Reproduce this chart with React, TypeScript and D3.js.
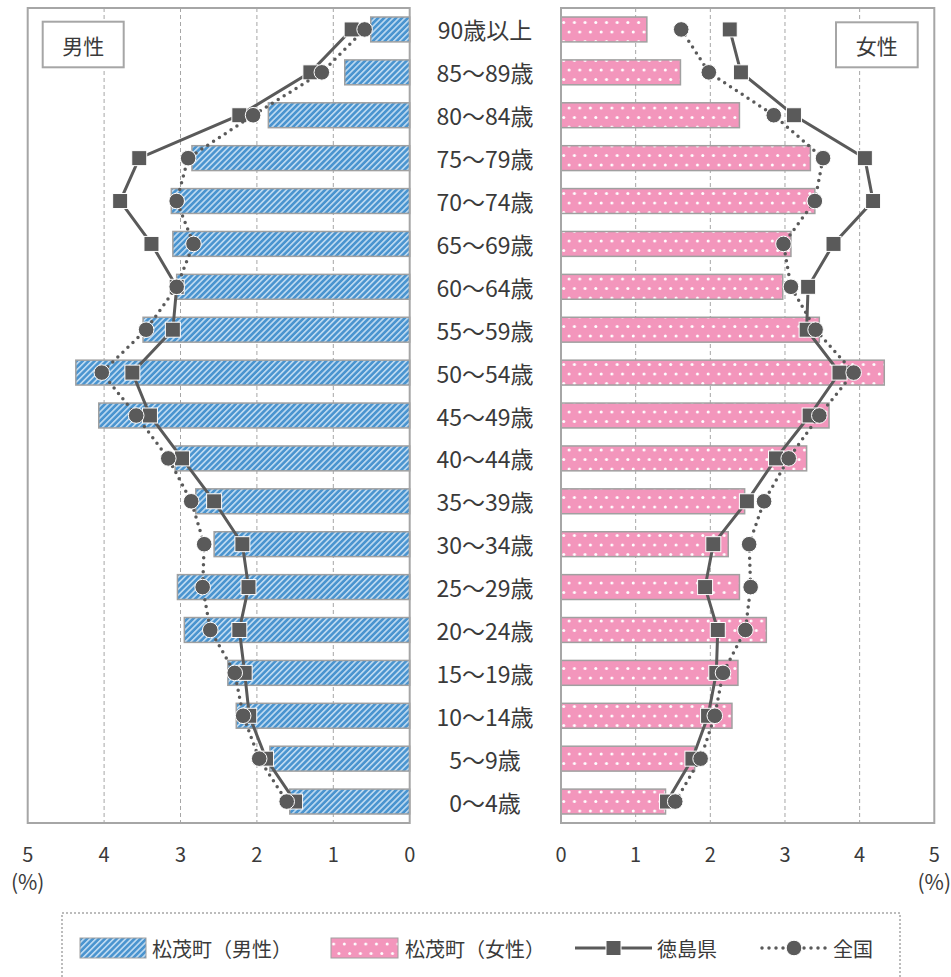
import React from "react";
import * as d3 from "d3";

const categories = ["90歳以上","85～89歳","80～84歳","75～79歳","70～74歳","65～69歳","60～64歳","55～59歳","50～54歳","45～49歳","40～44歳","35～39歳","30～34歳","25～29歳","20～24歳","15～19歳","10～14歳","5～9歳","0～4歳"];

const maleTown = [0.51,0.85,1.85,2.85,3.12,3.10,3.05,3.49,4.37,4.07,3.07,2.80,2.56,3.04,2.95,2.38,2.27,1.83,1.57];
const maleTokushima = [0.76,1.30,2.23,3.54,3.79,3.38,3.05,3.10,3.63,3.40,2.98,2.56,2.19,2.11,2.23,2.16,2.10,1.88,1.50];
const maleNational = [0.59,1.15,2.05,2.90,3.05,2.83,3.05,3.45,4.03,3.58,3.16,2.86,2.69,2.71,2.61,2.29,2.18,1.97,1.61];

const femaleTown = [1.15,1.60,2.39,3.34,3.40,3.08,2.97,3.46,4.33,3.59,3.29,2.46,2.24,2.39,2.75,2.37,2.29,1.79,1.40];
const femaleTokushima = [2.26,2.41,3.12,4.07,4.18,3.65,3.31,3.29,3.73,3.33,2.88,2.49,2.04,1.93,2.10,2.08,1.97,1.76,1.42];
const femaleNational = [1.61,1.98,2.85,3.51,3.40,2.98,3.08,3.41,3.92,3.46,3.05,2.72,2.52,2.54,2.47,2.17,2.06,1.87,1.53];

const ticks = [0, 1, 2, 3, 4, 5];
const gridTicks = [1, 2, 3, 4];
const legendLabels = ["松茂町（男性）", "松茂町（女性）", "徳島県", "全国"];
const unitLabel = "(%)";

const FONT = "'Noto Sans CJK JP', 'Noto Sans', sans-serif";
const TEXT = "#3a3a3a";
const GRAY = "#a6a6a6";
const MARK = "#5a5a5a";

export default function App() {
  const top = 8, bottom = 823;
  const xm = d3.scaleLinear().domain([0, 5]).range([409.7, 27.7]);
  const xf = d3.scaleLinear().domain([0, 5]).range([561, 934.3]);
  const y = d3.scaleBand<string>().domain(categories).range([top, bottom]).paddingInner(0.42).paddingOuter(0.21);
  const bw = y.bandwidth();
  const cy = (c: string) => (y(c) as number) + bw / 2;

  const lineGen = (xs: d3.ScaleLinear<number, number>, vals: number[]) =>
    d3.line<number>().x((v) => xs(v)).y((_, i) => cy(categories[i]))(vals) || "";

  const renderPanel = (
    xs: d3.ScaleLinear<number, number>,
    town: number[],
    tok: number[],
    nat: number[],
    fill: string,
    key: string
  ) => (
    <g key={key}>
      {gridTicks.map((t) => (
        <line key={t} x1={xs(t)} x2={xs(t)} y1={top} y2={bottom} stroke={GRAY} strokeWidth={1} strokeDasharray="4 3" />
      ))}
      {town.map((v, i) => {
        const a = xs(0), b = xs(v);
        return (
          <rect key={i} x={Math.min(a, b)} y={y(categories[i])} width={Math.abs(b - a)} height={bw}
            fill={fill} stroke="#a0a0a0" strokeWidth={1.5} />
        );
      })}
      <path d={lineGen(xs, tok)} fill="none" stroke={MARK} strokeWidth={3} />
      {tok.map((v, i) => (
        <rect key={"s" + i} x={xs(v) - 7.5} y={cy(categories[i]) - 7.5} width={15} height={15} fill={MARK} stroke="#fff" strokeWidth={1} />
      ))}
      <path d={lineGen(xs, nat)} fill="none" stroke={MARK} strokeWidth={3.5} strokeDasharray="0 7" strokeLinecap="round" />
      {nat.map((v, i) => (
        <circle key={"c" + i} cx={xs(v)} cy={cy(categories[i])} r={7.8} fill={MARK} stroke="#fff" strokeWidth={1} />
      ))}
      <rect x={Math.min(xs(0), xs(5))} y={top} width={Math.abs(xs(5) - xs(0))} height={bottom - top} fill="none" stroke={GRAY} strokeWidth={2} />
      {ticks.map((t) => (
        <text key={"t" + t} x={xs(t)} y={853} textAnchor="middle" dominantBaseline="central" fontSize={20} fill={TEXT}>{t}</text>
      ))}
      <text x={xs(5)} y={881} textAnchor="middle" dominantBaseline="central" fontSize={21} fill={TEXT}>{unitLabel}</text>
    </g>
  );

  const ly = 948;
  return (
    <svg width={951} height={977} style={{ position: "absolute", left: 0, top: 0, fontFamily: FONT }}>
      <defs>
        <pattern id="hatch" patternUnits="userSpaceOnUse" width={4.2} height={4.2} patternTransform="rotate(45)">
          <rect width={4.2} height={4.2} fill="#4a94cf" />
          <line x1={0.8} y1={0} x2={0.8} y2={4.2} stroke="#c8e0f4" strokeWidth={1.5} />
        </pattern>
        <pattern id="dots" patternUnits="userSpaceOnUse" width={10.7} height={19} x={561} y={0}>
          <rect width={10.7} height={19} fill="#f396bc" />
          <circle cx={2.7} cy={3.5} r={1.5} fill="#fff" />
          <circle cx={8.05} cy={13} r={1.5} fill="#fff" />
        </pattern>
      </defs>
      <rect width={951} height={977} fill="#fff" />
      {renderPanel(xm, maleTown, maleTokushima, maleNational, "url(#hatch)", "m")}
      {renderPanel(xf, femaleTown, femaleTokushima, femaleNational, "url(#dots)", "f")}

      {categories.map((c) => (
        <text key={c} x={485} y={cy(c)} textAnchor="middle" dominantBaseline="central" fontSize={23} fill={TEXT}>{c}</text>
      ))}

      <rect x={42.7} y={21.7} width={81} height={45.6} fill="#fff" stroke={GRAY} strokeWidth={2} />
      <text x={83.2} y={44.5} textAnchor="middle" dominantBaseline="central" fontSize={21} fill={TEXT}>男性</text>
      <rect x={836} y={22.3} width={81.7} height={45} fill="#fff" stroke={GRAY} strokeWidth={2} />
      <text x={876.8} y={44.8} textAnchor="middle" dominantBaseline="central" fontSize={21} fill={TEXT}>女性</text>

      <rect x={62} y={913} width={838} height={90} fill="none" stroke={GRAY} strokeWidth={1.5} strokeDasharray="2 2" />
      <rect x={80} y={938} width={66} height={20} fill="url(#hatch)" stroke="#a0a0a0" strokeWidth={1} />
      <text x={152} y={ly} dominantBaseline="central" fontSize={20} fill={TEXT}>{legendLabels[0]}</text>
      <rect x={331} y={938} width={67} height={20} fill="url(#dots)" stroke="#a0a0a0" strokeWidth={1} />
      <text x={405} y={ly} dominantBaseline="central" fontSize={20} fill={TEXT}>{legendLabels[1]}</text>
      <line x1={575} x2={652} y1={ly} y2={ly} stroke={MARK} strokeWidth={3} />
      <rect x={613.5 - 7.5} y={ly - 7.5} width={15} height={15} fill={MARK} stroke="#fff" strokeWidth={1} />
      <text x={657} y={ly} dominantBaseline="central" fontSize={20} fill={TEXT}>{legendLabels[2]}</text>
      <line x1={762} x2={828} y1={ly} y2={ly} stroke={MARK} strokeWidth={3.5} strokeDasharray="0 7" strokeLinecap="round" />
      <circle cx={794} cy={ly} r={7.8} fill={MARK} stroke="#fff" strokeWidth={1} />
      <text x={833} y={ly} dominantBaseline="central" fontSize={20} fill={TEXT}>{legendLabels[3]}</text>
    </svg>
  );
}
